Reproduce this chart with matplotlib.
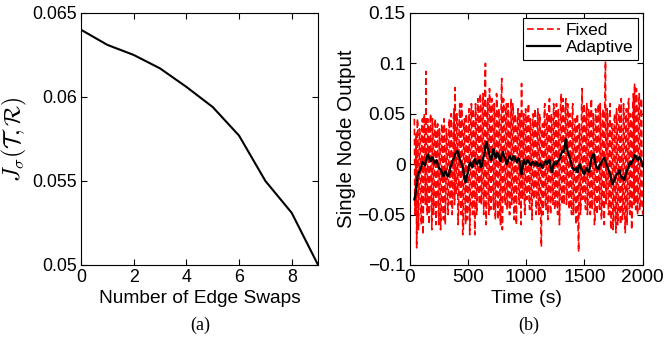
import numpy as np
import matplotlib
matplotlib.use("Agg")
import matplotlib.pyplot as plt

plt.rcParams["font.family"] = ["Liberation Sans", "DejaVu Sans"]
plt.rcParams["mathtext.fontset"] = "cm"

# (a) objective vs number of edge swaps
edge_swaps = [0, 1, 2, 3, 4, 5, 6, 7, 8, 9]
j_sigma = [0.0640, 0.0631, 0.0625, 0.0617, 0.0606, 0.0594, 0.0577, 0.0550, 0.0531, 0.0500]

# (b) single node output, fixed: samples at 40, 50, ..., 2000 s
fixed_out = [
    0.045, -0.03, -0.083, 0.04, -0.02, 0.03, -0.06, 0.045, -0.01, 0.02,
    0.092, -0.05, 0.035, -0.04, 0.05, -0.065, 0.03, -0.02, 0.045, -0.035,
    0.04, -0.06, 0.02, -0.045, 0.035, -0.055, 0.03, -0.03, 0.025, -0.05,
    0.045, -0.04, 0.02, -0.025, 0.055, 0.076, -0.03, 0.04, -0.045, 0.06,
    -0.05, 0.035, -0.065, 0.045, -0.06, 0.03, -0.04, 0.055, -0.035, 0.06,
    -0.05, 0.045, -0.07, 0.04, -0.02, 0.05, -0.04, 0.06, -0.03, 0.07,
    -0.025, 0.1, -0.04, 0.065, -0.05, 0.055, -0.02, 0.06, -0.045, 0.05,
    -0.03, 0.065, -0.055, 0.045, -0.06, 0.085, -0.025, 0.05, -0.04, 0.06,
    -0.035, 0.045, -0.05, 0.065, -0.03, 0.05, -0.045, 0.04, -0.02, 0.055,
    -0.04, 0.03, 0.08, -0.035, 0.05, -0.05, 0.04, -0.03, 0.06, -0.045,
    0.035, -0.055, 0.05, -0.02, 0.045, -0.04, 0.055, -0.05, 0.03, -0.082,
    0.04, -0.03, 0.06, -0.045, 0.05, -0.025, 0.065, -0.05, 0.045, -0.04,
    0.055, -0.035, 0.06, -0.05, 0.04, -0.03, 0.07, -0.04, 0.05, -0.02,
    0.065, -0.03, 0.055, -0.045, 0.04, -0.05, 0.06, -0.035, 0.045, -0.06,
    0.05, -0.087, 0.035, -0.04, 0.075, -0.03, 0.05, -0.045, 0.06, -0.035,
    0.045, -0.05, 0.065, -0.025, 0.04, -0.055, 0.05, -0.03, 0.06, -0.045,
    0.035, -0.04, 0.055, -0.06, 0.102, -0.03, 0.045, -0.05, 0.06, -0.065,
    0.04, -0.055, 0.05, -0.068, 0.035, -0.045, 0.06, -0.06, 0.03, -0.05,
    0.045, -0.068, 0.055, -0.04, 0.065, -0.05, 0.04, -0.03, 0.07, 0.08,
    -0.045, 0.06, -0.03, 0.07, -0.04, 0.065, -0.05,
]
# fixed: samples in between, at 45, 55, ..., 1995 s
fixed_mid = [
    -0.05, 0.03, 0.045, -0.065, 0.035, -0.045, 0.04, -0.07, 0.05, -0.04,
    -0.02, 0.045, -0.06, 0.04, -0.03, 0.045, -0.05, 0.04, -0.06, 0.035,
    -0.04, 0.035, -0.065, 0.04, -0.03, 0.045, -0.06, 0.035, -0.04, 0.03,
    -0.03, 0.05, -0.05, 0.045, -0.04, -0.02, 0.05, -0.06, 0.045, -0.035,
    0.06, -0.07, 0.04, -0.03, 0.05, -0.055, 0.045, -0.07, 0.05, -0.04,
    0.055, -0.045, 0.06, -0.05, 0.065, -0.03, 0.07, -0.04, 0.06, -0.05,
    0.07, -0.06, 0.05, -0.035, 0.075, -0.045, 0.065, -0.03, 0.06, -0.055,
    0.07, -0.04, 0.055, -0.05, 0.06, -0.065, 0.065, -0.035, 0.055, -0.045,
    0.06, -0.05, 0.04, -0.04, 0.06, -0.055, 0.05, -0.06, 0.045, -0.03,
    0.05, -0.06, -0.02, 0.045, -0.045, 0.055, -0.035, 0.05, -0.04, 0.045,
    -0.04, 0.045, -0.035, 0.055, -0.05, 0.04, -0.045, 0.05, -0.06, 0.03,
    -0.05, 0.055, -0.04, 0.045, -0.055, 0.06, -0.04, 0.05, -0.035, 0.06,
    -0.045, 0.05, -0.04, 0.055, -0.06, 0.06, -0.035, 0.065, -0.04, 0.055,
    -0.04, 0.06, -0.035, 0.05, -0.045, 0.055, -0.05, 0.04, -0.055, 0.045,
    -0.06, 0.04, -0.05, 0.055, -0.035, 0.06, -0.04, 0.05, -0.05, 0.055,
    -0.04, 0.06, -0.045, 0.05, -0.06, 0.055, -0.05, 0.045, -0.04, 0.06,
    -0.055, 0.05, -0.045, 0.06, -0.04, 0.055, -0.05, 0.045, -0.06, 0.04,
    -0.065, 0.045, -0.05, 0.055, -0.06, 0.05, -0.045, 0.065, -0.055, 0.06,
    -0.05, 0.04, -0.06, 0.06, -0.045, 0.05, -0.065, 0.06, -0.04, -0.03,
    0.075, -0.05, 0.06, -0.045, 0.065, -0.04,
]

# adaptive: samples at 40, 60, ..., 2000 s
adaptive_out = [
    -0.035, -0.02, -0.008, -0.002, 0.0, 0.004, 0.01, 0.003, 0.006, 0.002,
    0.0, -0.005, -0.01, -0.008, -0.011, -0.009, 0.0, 0.006, 0.012, 0.01,
    0.002, -0.006, -0.018, -0.008, 0.002, -0.003, 0.005, 0.0, 0.004, -0.002,
    0.01, 0.022, 0.012, 0.004, 0.015, 0.006, 0.01, 0.003, 0.012, 0.006,
    0.002, 0.008, 0.004, 0.007, 0.002, 0.005, -0.01, 0.004, 0.0, 0.003,
    -0.001, 0.002, 0.0, -0.002, 0.001, -0.004, 0.002, 0.0, 0.004, -0.008,
    0.002, 0.0, 0.004, 0.01, 0.012, 0.025, 0.01, 0.004, -0.004, -0.005,
    -0.008, 0.0, -0.006, -0.01, -0.004, -0.008, 0.006, 0.01, -0.002, -0.005,
    0.0, 0.005, 0.003, -0.003, -0.01, -0.02, -0.015, -0.01, -0.006, -0.014,
    -0.016, -0.008, -0.002, 0.0, 0.005, 0.008, 0.004, 0.006, -0.002,
]
# adaptive: samples in between, at 50, 70, ..., 1990 s
adaptive_mid = [
    -0.03, -0.01, -0.006, 0.002, -0.001, 0.008, 0.005, 0.007, 0.001, 0.004,
    -0.004, -0.006, -0.012, -0.007, -0.012, -0.003, 0.004, 0.01, 0.013, 0.005,
    -0.001, -0.014, -0.012, -0.001, -0.002, 0.003, 0.001, 0.003, -0.003, 0.006,
    0.018, 0.016, 0.006, 0.01, 0.009, 0.011, 0.005, 0.009, 0.008, 0.0,
    0.006, 0.005, 0.008, 0.003, 0.006, -0.004, -0.002, 0.001, 0.004, 0.0,
    0.002, -0.001, 0.002, -0.001, -0.002, 0.0, 0.003, 0.003, -0.003, -0.002,
    0.0, 0.003, 0.006, 0.013, 0.018, 0.016, 0.008, -0.001, -0.006, -0.004,
    -0.003, -0.004, -0.009, -0.006, -0.007, 0.0, 0.009, 0.003, -0.004, -0.001,
    0.003, 0.006, -0.001, -0.007, -0.016, -0.017, -0.011, -0.009, -0.011, -0.013,
    -0.012, -0.005, 0.002, 0.003, 0.009, 0.005, 0.007, 0.002,
]

# merge the two sample grids of each series
fixed_time = np.arange(40, 2001, 5)
fixed_all = np.empty(len(fixed_out) + len(fixed_mid))
fixed_all[0::2] = fixed_out
fixed_all[1::2] = fixed_mid

adaptive_time = np.arange(40, 2001, 10)
adaptive_all = np.empty(len(adaptive_out) + len(adaptive_mid))
adaptive_all[0::2] = adaptive_out
adaptive_all[1::2] = adaptive_mid

fig = plt.figure(figsize=(6.64, 3.5), dpi=100)
ax1 = fig.add_axes([0.122, 0.243, 0.357, 0.72])
ax2 = fig.add_axes([0.617, 0.243, 0.351, 0.72])

ax1.plot(edge_swaps, j_sigma, color="black", linewidth=1.5)
ax1.set_xlim(0, 9)
ax1.set_ylim(0.05, 0.065)
ax1.set_xticks([0, 2, 4, 6, 8])
ax1.set_yticks([0.05, 0.055, 0.06, 0.065])
ax1.set_yticklabels(["0.05", "0.055", "0.06", "0.065"])
ax1.set_xlabel("Number of Edge Swaps", fontsize=13.8, labelpad=3)
ax1.set_ylabel(r"$J_\sigma(\mathcal{T},\mathcal{R})$", fontsize=17, labelpad=2)
ax1.tick_params(labelsize=12.8)

ax2.plot(fixed_time, fixed_all, color="red", linestyle=(0, (4, 2)), linewidth=1.2, label="Fixed")
ax2.plot(adaptive_time, adaptive_all, color="black", linewidth=1.6, label="Adaptive")
ax2.set_xlim(0, 2000)
ax2.set_ylim(-0.1, 0.15)
ax2.set_xticks([0, 500, 1000, 1500, 2000])
ax2.set_yticks([-0.1, -0.05, 0, 0.05, 0.1, 0.15])
ax2.set_yticklabels(["\u22120.1", "\u22120.05", "0", "0.05", "0.1", "0.15"])
ax2.set_xlabel("Time (s)", fontsize=14, labelpad=3)
ax2.set_ylabel("Single Node Output", fontsize=14.8, labelpad=1)
ax2.tick_params(labelsize=13.8)
leg = ax2.legend(loc="upper right", fontsize=12.5, fancybox=False, framealpha=1,
                 edgecolor="black", handlelength=1.9, handletextpad=0.3,
                 labelspacing=0.15, borderpad=0.25, borderaxespad=0.3)
leg.get_frame().set_linewidth(0.8)

for ax in (ax1, ax2):
    ax.tick_params(direction="in", top=True, right=True, length=4, pad=3)
    for s in ax.spines.values():
        s.set_linewidth(0.8)

fig.text(0.301, 0.071, "(a)", ha="center", va="center", fontsize=13,
         family=["Liberation Serif", "DejaVu Serif"])
fig.text(0.796, 0.071, "(b)", ha="center", va="center", fontsize=13,
         family=["Liberation Serif", "DejaVu Serif"])

fig.savefig("out.png", dpi=100)
